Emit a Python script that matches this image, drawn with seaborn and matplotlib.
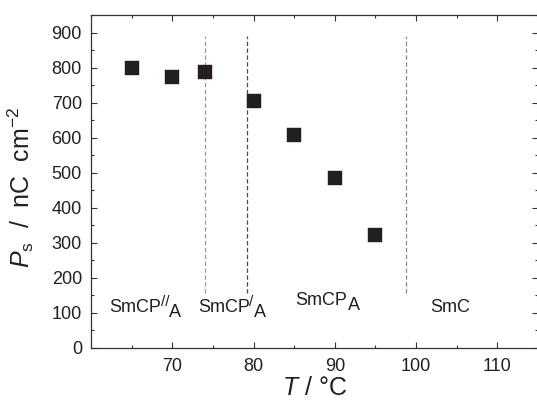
import matplotlib
matplotlib.use("Agg")
import matplotlib.pyplot as plt
from matplotlib.ticker import MultipleLocator
import pandas as pd
import seaborn as sns

# Spontaneous polarization vs temperature
temperature = [65, 70, 74, 80, 85, 90, 95]
polarization = [800, 774, 786, 705, 608, 484, 323]

# Phase transition temperatures (dashed lines)
transition_T = [74.0, 79.2, 98.7]
transition_colors = ["#9a9a9a", "#4a4a4a", "#8a8a8a"]
transition_span = (157, 890)

# Phase names: (x, y, main text, superscript, subscript)
phase_x = [62.3, 73.2, 85.1, 101.7]
phase_y = [103, 102.6, 122.5, 102.6]
phase_main = ["SmCP", "SmCP", "SmCP", "SmC"]
phase_sup = ["//", "/", "", ""]
phase_sub = ["A", "A", "A", ""]

x_ticks = [70, 80, 90, 100, 110]
y_ticks = [0, 100, 200, 300, 400, 500, 600, 700, 800, 900]

sns.set_style("ticks")
plt.rcParams["font.family"] = ["Liberation Sans", "DejaVu Sans"]
plt.rcParams["mathtext.fontset"] = "custom"
plt.rcParams["mathtext.rm"] = "Liberation Sans"
plt.rcParams["mathtext.it"] = "Liberation Sans:italic"
plt.rcParams["mathtext.default"] = "regular"

ink = "#231f20"

df = pd.DataFrame({"T": temperature, "Ps": polarization})

fig = plt.figure(figsize=(5.37, 4.01), dpi=100)
ax = fig.add_axes([91 / 537, 53 / 401, 447 / 537, 333 / 401])

for xt, c in zip(transition_T, transition_colors):
    ax.vlines(xt, transition_span[0], transition_span[1], colors=c,
              linestyles=(0, (3.5, 2)), linewidth=0.9, zorder=1)

sns.scatterplot(data=df, x="T", y="Ps", marker="s", s=100, color=ink,
                edgecolor=ink, linewidth=0.3, ax=ax, zorder=3, legend=False)

ax.set_xlim(60, 115)
ax.set_ylim(0, 950)
ax.set_xticks(x_ticks)
ax.set_yticks(y_ticks)
ax.xaxis.set_minor_locator(MultipleLocator(5))
ax.yaxis.set_minor_locator(MultipleLocator(50))

ax.tick_params(which="both", direction="in", top=True, right=True,
               color="#333333", width=0.8, labelsize=13, labelcolor=ink)
ax.tick_params(axis="x", which="major", pad=7)
ax.tick_params(axis="y", which="major", pad=6.5)
ax.tick_params(which="major", length=4.5)
ax.tick_params(which="minor", length=2.5)
for sp in ax.spines.values():
    sp.set_linewidth(0.9)
    sp.set_color("#333333")

ax.set_xlabel(r"$\mathit{T}$ / °C", fontsize=18, color=ink)
ax.set_ylabel(r"$\mathit{P}_{s}$  /  nC  cm$^{-2}$", fontsize=18, color=ink)
ax.xaxis.set_label_coords(0.5, -0.085)
ax.yaxis.set_label_coords(-0.123, 0.483)

for x, y, main, sup, sub in zip(phase_x, phase_y, phase_main, phase_sup, phase_sub):
    t = ax.text(x, y, main, fontsize=13, color=ink, ha="left", va="baseline")
    anchor = t
    if sup:
        anchor = ax.annotate(sup, xy=(1, 1), xycoords=t, xytext=(-0.5, 3),
                             textcoords="offset points", ha="left", va="top",
                             fontsize=11, color=ink)
    if sub:
        ax.annotate(sub, xy=(1, 0), xycoords=(anchor, t),
                    xytext=(0 if sup else 0.5, -0.5),
                    textcoords="offset points", ha="left", va="baseline",
                    fontsize=13, color=ink)

fig.savefig("out.png", dpi=100)
